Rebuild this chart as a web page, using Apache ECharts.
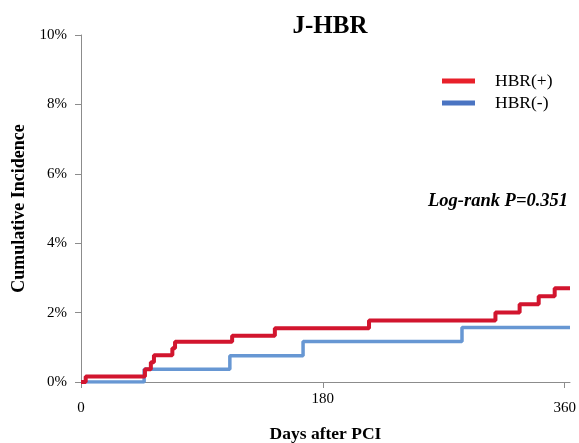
<!DOCTYPE html>
<html>
<head>
<meta charset="utf-8">
<script src="https://cdn.jsdelivr.net/npm/echarts@6/dist/echarts.min.js"></script>
<style>
  html, body { margin: 0; padding: 0; background: #fff; }
  #main { width: 579px; height: 443px; }
</style>
</head>
<body>
<div id="main"></div>
<script>
// 阶梯数据（天数, 累计发生率 %）
const redDays = [0, 3.5, 47.6, 52, 54.3, 68, 70, 112.5, 144.3, 214.4, 308.5, 326.5, 340.7, 352.6, 364];
const redInc = [0, 0.16, 0.37, 0.57, 0.77, 0.97, 1.16, 1.33, 1.55, 1.77, 2.0, 2.24, 2.47, 2.7, 2.7];
const blueDays = [0, 47, 110.8, 165.3, 283.6, 364];
const blueInc = [0, 0.37, 0.76, 1.17, 1.57, 1.57];
const xTicks = [0, 180, 360];
const seriesNames = ["HBR(+)", "HBR(-)"];

const serif = "'Liberation Serif', 'DejaVu Serif', serif";
const axisGray = "#8c8c8c";

const chart = echarts.init(document.getElementById("main"));
const option = {
  animation: false,
  title: {
    text: "J-HBR",
    left: 325,
    textAlign: "center",
    top: 9,
    textStyle: { fontFamily: serif, fontSize: 25, fontWeight: "bold", color: "#000" }
  },
  legend: {
    orient: "vertical",
    left: 437,
    top: 67,
    itemWidth: 33,
    itemHeight: 5,
    itemGap: 4,
    textStyle: { fontFamily: serif, fontSize: 17.5, color: "#000", padding: [0, 0, 0, 15] },
    data: [
      { name: seriesNames[0], icon: "rect", itemStyle: { color: "#e8202a" } },
      { name: seriesNames[1], icon: "rect", itemStyle: { color: "#4a74c2" } }
    ]
  },
  // 网格固定位置，不让 v6 自动收缩
  grid: { left: 81, right: 9, top: 35, bottom: 61, outerBoundsMode: "none", containLabel: false },
  xAxis: {
    type: "value",
    min: 0,
    max: 364,
    name: "Days after PCI",
    nameLocation: "middle",
    nameGap: 43,
    nameTextStyle: { fontFamily: serif, fontSize: 17.5, fontWeight: "bold", color: "#000" },
    axisLine: { lineStyle: { color: axisGray, width: 1 } },
    axisTick: { show: true, length: 6, customValues: xTicks, lineStyle: { color: axisGray } },
    axisLabel: {
      customValues: xTicks,
      margin: 10,
      fontFamily: serif,
      fontSize: 15,
      color: "#000",
      // 180 这个刻度值在原图里比两边高一点
      formatter: v => (v === 180 ? "{a|180}" : "{b|" + v + "}"),
      rich: {
        a: { fontFamily: serif, fontSize: 15, color: "#000" },
        b: { fontFamily: serif, fontSize: 15, color: "#000", padding: [9, 0, 0, 0] }
      }
    },
    splitLine: { show: false }
  },
  yAxis: {
    type: "value",
    min: 0,
    max: 10,
    interval: 2,
    name: "Cumulative Incidence",
    nameLocation: "middle",
    nameGap: 48,
    nameTextStyle: { fontFamily: serif, fontSize: 18, fontWeight: "bold", color: "#000" },
    axisLine: { show: true, lineStyle: { color: axisGray, width: 1 } },
    axisTick: { show: true, length: 6, lineStyle: { color: axisGray } },
    axisLabel: { formatter: "{value}%", margin: 14, fontFamily: serif, fontSize: 15, color: "#000" },
    splitLine: { show: false }
  },
  graphic: [
    {
      type: "text",
      left: 428,
      top: 192,
      style: {
        text: "Log-rank P=0.351",
        font: "italic bold 18.5px " + serif,
        fill: "#000"
      }
    }
  ],
  series: [
    {
      name: seriesNames[1],
      type: "line",
      step: "end",
      symbol: "none",
      color: "#4a74c2",
      lineStyle: { color: "#6797d3", width: 3.5 },
      data: blueDays.map((d, i) => [d, blueInc[i]])
    },
    {
      name: seriesNames[0],
      type: "line",
      step: "end",
      symbol: "none",
      color: "#e8202a",
      lineStyle: { color: "#d2152e", width: 4 },
      data: redDays.map((d, i) => [d, redInc[i]])
    }
  ]
};
chart.setOption(option);
</script>
</body>
</html>
